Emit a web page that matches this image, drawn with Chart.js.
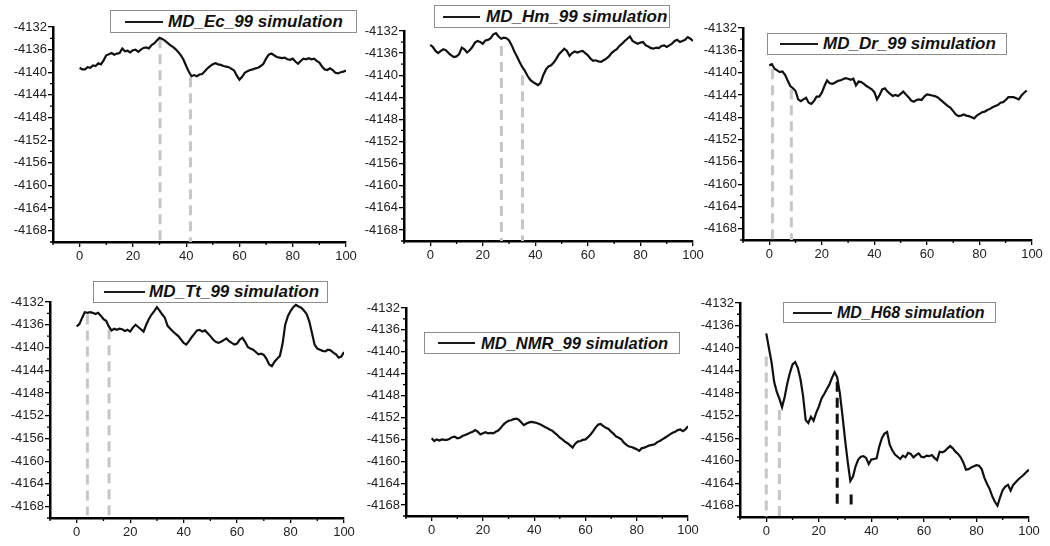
<!DOCTYPE html>
<html>
<head>
<meta charset="utf-8">
<script src="https://cdn.jsdelivr.net/npm/chart.js@4.4.1/dist/chart.umd.min.js"></script>
<style>
  html, body { margin: 0; padding: 0; background: #fff; width: 1050px; height: 546px; overflow: hidden; }
  canvas { position: absolute; }
  .lg { position: absolute; box-sizing: border-box; border: 1px solid #8c8c8c; background: #fff; display: flex; align-items: center; white-space: nowrap; }
  .lg .ln { display: inline-block; height: 0; border-top: 2px solid #1a1a1a; }
  .lg .tx { font-family: "Liberation Sans", Arial, sans-serif; font-weight: bold; font-style: italic; color: #111; }
</style>
</head>
<body>
<script>
// ---------------- DATA ----------------
const steps = [0,1,2,3,4,5,6,7,8,9,10,11,12,13,14,15,16,17,18,19,20,21,22,23,24,25,26,27,28,29,30,31,32,33,34,35,36,37,38,39,40,41,42,43,44,45,46,47,48,49,50,51,52,53,54,55,56,57,58,59,60,61,62,63,64,65,66,67,68,69,70,71,72,73,74,75,76,77,78,79,80,81,82,83,84,85,86,87,88,89,90,91,92,93,94,95,96,97,98,99,100];

const seriesNames = ["MD_Ec_99 simulation","MD_Hm_99 simulation","MD_Dr_99 simulation","MD_Tt_99 simulation","MD_NMR_99 simulation","MD_H68 simulation"];

const ecValues = [-4139.2,-4139.5,-4139.5,-4139.1,-4139.2,-4138.8,-4138.9,-4138.4,-4138.6,-4137.9,-4137.0,-4136.8,-4136.6,-4136.9,-4136.7,-4136.6,-4135.8,-4136.3,-4136.2,-4136.5,-4136.1,-4136.0,-4136.4,-4136.0,-4135.7,-4135.6,-4135.8,-4135.2,-4134.9,-4134.4,-4133.9,-4134.1,-4134.4,-4134.8,-4135.2,-4135.5,-4135.9,-4136.4,-4137.0,-4137.8,-4138.9,-4139.9,-4140.7,-4140.5,-4140.7,-4140.4,-4140.3,-4139.8,-4139.3,-4138.9,-4138.6,-4138.4,-4138.6,-4138.7,-4138.9,-4139.0,-4139.1,-4139.4,-4139.7,-4140.6,-4141.3,-4140.8,-4140.1,-4139.8,-4139.6,-4139.5,-4139.3,-4139.2,-4138.9,-4138.5,-4137.6,-4136.9,-4136.7,-4137.0,-4137.3,-4137.4,-4137.5,-4137.4,-4137.7,-4137.8,-4137.6,-4138.1,-4138.5,-4138.0,-4137.6,-4137.7,-4137.5,-4137.7,-4137.6,-4138.0,-4138.3,-4139.0,-4139.5,-4139.6,-4139.3,-4139.6,-4140.1,-4140.2,-4140.0,-4139.9,-4139.7];

const hmValues = [-4134.5,-4134.9,-4135.6,-4136.0,-4135.6,-4135.3,-4135.5,-4136.0,-4136.4,-4136.7,-4136.6,-4136.2,-4135.0,-4135.3,-4135.9,-4135.5,-4134.9,-4134.1,-4133.8,-4134.0,-4134.3,-4133.7,-4133.6,-4133.3,-4132.6,-4132.4,-4133.0,-4133.4,-4133.2,-4133.3,-4133.7,-4134.6,-4135.7,-4136.6,-4137.6,-4138.5,-4139.2,-4140.1,-4140.8,-4141.2,-4141.5,-4141.8,-4141.4,-4140.0,-4139.0,-4138.4,-4138.2,-4137.7,-4137.0,-4136.2,-4135.7,-4135.2,-4135.6,-4136.5,-4136.0,-4135.7,-4135.9,-4135.7,-4135.6,-4136.0,-4136.4,-4137.0,-4137.4,-4137.3,-4137.5,-4137.6,-4137.3,-4137.0,-4136.6,-4136.0,-4135.6,-4135.3,-4134.7,-4134.3,-4133.8,-4133.4,-4133.0,-4133.8,-4134.1,-4134.3,-4134.1,-4134.0,-4134.6,-4134.8,-4135.1,-4135.2,-4135.0,-4135.1,-4134.7,-4134.6,-4134.9,-4134.6,-4134.3,-4133.8,-4133.6,-4134.0,-4133.8,-4133.6,-4133.1,-4133.4,-4133.8];

const drValues = [-4138.7,-4138.5,-4139.3,-4139.6,-4139.9,-4139.8,-4140.4,-4141.4,-4142.4,-4142.8,-4143.3,-4144.8,-4145.1,-4144.8,-4144.5,-4145.4,-4145.6,-4145.1,-4144.3,-4144.3,-4143.6,-4142.4,-4141.4,-4141.9,-4142.0,-4141.8,-4141.5,-4141.4,-4141.2,-4141.0,-4141.1,-4141.3,-4141.1,-4142.3,-4141.6,-4141.7,-4142.0,-4142.4,-4142.7,-4143.0,-4143.5,-4144.8,-4144.0,-4143.0,-4142.8,-4143.4,-4143.8,-4144.2,-4144.0,-4144.2,-4143.8,-4143.4,-4143.9,-4144.4,-4145.0,-4145.2,-4144.9,-4144.8,-4144.9,-4144.3,-4143.9,-4144.0,-4144.1,-4144.2,-4144.4,-4144.8,-4145.2,-4145.6,-4146.0,-4146.3,-4146.9,-4147.5,-4147.8,-4147.7,-4147.5,-4147.7,-4147.8,-4148.0,-4148.2,-4147.7,-4147.4,-4147.1,-4147.0,-4146.7,-4146.5,-4146.2,-4146.0,-4145.8,-4145.4,-4145.3,-4144.9,-4144.4,-4144.4,-4144.4,-4144.6,-4144.8,-4144.1,-4143.6,-4143.2];

const ttValues = [-4136.3,-4135.9,-4134.8,-4133.8,-4133.9,-4133.8,-4133.9,-4134.1,-4133.9,-4134.4,-4135.0,-4135.3,-4136.3,-4137.0,-4136.7,-4136.9,-4136.7,-4136.8,-4137.1,-4136.9,-4137.2,-4136.5,-4136.0,-4136.4,-4136.8,-4137.2,-4136.0,-4135.0,-4134.2,-4133.6,-4132.9,-4133.5,-4134.2,-4134.8,-4136.2,-4136.7,-4137.2,-4137.6,-4138.0,-4138.6,-4139.2,-4139.5,-4138.9,-4138.2,-4137.6,-4137.0,-4136.9,-4137.2,-4137.0,-4137.5,-4138.0,-4138.6,-4139.0,-4139.2,-4139.0,-4138.7,-4138.4,-4138.9,-4139.2,-4139.5,-4139.3,-4138.6,-4138.3,-4139.0,-4139.9,-4140.2,-4140.4,-4140.8,-4141.2,-4141.1,-4141.3,-4142.0,-4143.0,-4143.3,-4142.5,-4142.0,-4141.5,-4139.4,-4136.0,-4134.5,-4133.6,-4132.9,-4132.5,-4132.8,-4133.0,-4133.5,-4134.1,-4135.4,-4137.4,-4139.5,-4140.2,-4140.4,-4140.6,-4140.7,-4140.4,-4140.5,-4140.9,-4141.2,-4141.8,-4141.6,-4140.8];

const nmrValues = [-4155.8,-4156.3,-4156.0,-4156.2,-4156.0,-4156.1,-4156.1,-4155.9,-4155.6,-4155.5,-4155.8,-4155.7,-4155.4,-4155.2,-4155.0,-4154.8,-4154.6,-4154.3,-4154.6,-4155.1,-4154.9,-4154.7,-4154.9,-4154.8,-4154.9,-4154.6,-4154.4,-4153.9,-4153.3,-4152.9,-4152.6,-4152.5,-4152.3,-4152.2,-4152.4,-4152.9,-4153.4,-4153.1,-4152.9,-4152.8,-4152.9,-4153.0,-4153.2,-4153.4,-4153.7,-4153.9,-4154.2,-4154.4,-4154.8,-4155.2,-4155.7,-4156.0,-4156.4,-4156.7,-4157.1,-4157.5,-4156.8,-4156.4,-4156.3,-4156.1,-4156.0,-4155.6,-4155.1,-4154.5,-4153.8,-4153.3,-4153.2,-4153.6,-4153.9,-4154.1,-4154.6,-4155.0,-4155.5,-4155.7,-4156.0,-4156.6,-4157.0,-4157.3,-4157.4,-4157.6,-4157.8,-4158.1,-4157.6,-4157.5,-4157.3,-4157.1,-4157.0,-4156.9,-4156.5,-4156.3,-4156.0,-4155.7,-4155.4,-4155.1,-4154.8,-4154.6,-4154.3,-4154.2,-4154.5,-4154.2,-4153.6];

const h68Values = [-4137.4,-4140.0,-4142.5,-4146.0,-4147.8,-4149.0,-4150.5,-4148.7,-4146.3,-4144.4,-4142.9,-4142.5,-4143.5,-4145.5,-4148.5,-4152.8,-4153.3,-4152.2,-4152.9,-4151.5,-4150.4,-4149.0,-4148.2,-4147.3,-4146.5,-4145.3,-4144.3,-4145.2,-4148.0,-4152.0,-4156.3,-4160.2,-4163.6,-4162.8,-4161.0,-4159.8,-4159.3,-4159.2,-4159.5,-4160.6,-4159.8,-4159.7,-4159.6,-4157.5,-4156.0,-4155.2,-4154.9,-4157.2,-4158.2,-4158.9,-4159.3,-4159.7,-4159.1,-4159.4,-4158.6,-4158.8,-4159.4,-4159.0,-4158.7,-4159.3,-4159.4,-4159.1,-4159.2,-4159.0,-4159.5,-4159.9,-4158.4,-4158.5,-4158.3,-4157.8,-4157.4,-4157.8,-4158.4,-4158.8,-4159.4,-4160.3,-4161.6,-4161.5,-4161.2,-4161.0,-4160.8,-4160.9,-4161.5,-4163.0,-4164.1,-4165.0,-4166.3,-4167.3,-4168.0,-4166.5,-4165.2,-4164.6,-4164.3,-4165.3,-4164.3,-4163.8,-4163.3,-4162.9,-4162.5,-4162.0,-4161.6];

// dashed marker lines: [x, top y, bottom y]
const ecGrayMarks  = [[30.2, -4134.0, -4170], [41.6, -4140.9, -4170]];
const hmGrayMarks  = [[27.1, -4134.7, -4170], [35.1, -4140.0, -4170]];
const drGrayMarks  = [[1.2, -4139.4, -4170], [8.4, -4143.0, -4170]];
const ttGrayMarks  = [[4.0, -4134.2, -4169.5], [12.1, -4136.8, -4169.5]];
const nmrGrayMarks = [];
const h68GrayMarks = [[0.0, -4141.5, -4170], [5.0, -4151.0, -4170]];
const h68BlackMarks = [[27.0, -4146.0, -4168.6], [32.3, -4166.0, -4167.8]];

const xTickLabels = [0, 20, 40, 60, 80, 100];
const xMinorTicks = [-10, 10, 30, 50, 70, 90];
const yTickLabels = [-4168, -4164, -4160, -4156, -4152, -4148, -4144, -4140, -4136, -4132];
const yMinorTicks = [-4170, -4166, -4162, -4158, -4154, -4150, -4146, -4142, -4138, -4134];
const xRange = [-10, 100];
const yRange = [-4170, -4132];

// ---------------- LAYOUT (positions / styles only) ----------------
const Y_AXIS_W = 50, X_AXIS_H = 30, PAD_TOP = 10, PAD_RIGHT = 15;
const panels = [
  { values: ecValues,  gray: ecGrayMarks,  black: [], name: seriesNames[0], area: {l: 53, r: 346, t: 27, b: 242},
    legend: {l: 110, t: 10, w: 247, h: 23, lineOff: 14, lineLen: 38, gap: 5, fs: 17} },
  { values: hmValues,  gray: hmGrayMarks,  black: [], name: seriesNames[1], area: {l: 404, r: 693, t: 31, b: 241},
    legend: {l: 434, t: 5, w: 236, h: 23, lineOff: 8, lineLen: 37, gap: 6, fs: 17} },
  { values: drValues,  gray: drGrayMarks,  black: [], name: seriesNames[2], area: {l: 743, r: 1032, t: 28, b: 240},
    legend: {l: 767, t: 33, w: 240, h: 22, lineOff: 12, lineLen: 38, gap: 5, fs: 17} },
  { values: ttValues,  gray: ttGrayMarks,  black: [], name: seriesNames[3], area: {l: 50, r: 344, t: 302, b: 518},
    legend: {l: 93, t: 281, w: 235, h: 22, lineOff: 10, lineLen: 41, gap: 4, fs: 17} },
  { values: nmrValues, gray: nmrGrayMarks, black: [], name: seriesNames[4], area: {l: 406, r: 688, t: 308, b: 516},
    legend: {l: 424, t: 332, w: 256, h: 22, lineOff: 13, lineLen: 37, gap: 6, fs: 16.5} },
  { values: h68Values, gray: h68GrayMarks, black: h68BlackMarks, name: seriesNames[5], area: {l: 740, r: 1029, t: 303, b: 517},
    legend: {l: 783, t: 302, w: 213, h: 21, lineOff: 9, lineLen: 39, gap: 5, fs: 16} }
];

const tickFont = { family: '"Liberation Sans", Arial, sans-serif', size: 13 };

const minorTickPlugin = {
  id: 'minorTicks',
  afterDraw(chart) {
    const ctx = chart.ctx, xs = chart.scales.x, ys = chart.scales.y;
    ctx.save();
    ctx.strokeStyle = '#000';
    ctx.lineWidth = 1.3;
    ctx.beginPath();
    yMinorTicks.forEach(v => {
      const py = ys.getPixelForValue(v);
      ctx.moveTo(ys.right - 3, py); ctx.lineTo(ys.right, py);
    });
    xMinorTicks.forEach(v => {
      const px = xs.getPixelForValue(v);
      ctx.moveTo(px, xs.top); ctx.lineTo(px, xs.top + 3);
    });
    ctx.stroke();
    ctx.restore();
  }
};

function markDatasets(marks, color) {
  return marks.map(m => ({
    data: [{x: m[0], y: m[1]}, {x: m[0], y: m[2]}],
    borderColor: color, borderWidth: 3, borderDash: [10, 6],
    pointRadius: 0, fill: false, order: 2
  }));
}

const plainLabel = v => String(v);

panels.forEach(p => {
  const a = p.area;
  const areaW = a.r - a.l, areaH = a.b - a.t;
  const cv = document.createElement('canvas');
  const W = Y_AXIS_W + areaW + PAD_RIGHT, H = PAD_TOP + areaH + X_AXIS_H;
  cv.width = W; cv.height = H;
  cv.style.left = (a.l - Y_AXIS_W) + 'px';
  cv.style.top = (a.t - PAD_TOP) + 'px';
  cv.style.width = W + 'px'; cv.style.height = H + 'px';
  document.body.appendChild(cv);

  const curve = {
    data: p.values.map((v, i) => ({x: steps[i], y: v})),
    borderColor: '#111', borderWidth: 2.2, pointRadius: 0, tension: 0, fill: false, order: 1,
    borderJoinStyle: 'miter'
  };
  new Chart(cv, {
    type: 'line',
    data: { datasets: [...markDatasets(p.gray, '#c6c6c6'), ...markDatasets(p.black, '#111'), curve] },
    options: {
      responsive: false, animation: false, devicePixelRatio: 1,
      layout: { padding: { top: PAD_TOP, right: PAD_RIGHT, left: 0, bottom: 0 } },
      plugins: { legend: { display: false }, tooltip: { enabled: false } },
      scales: {
        x: {
          type: 'linear', min: xRange[0], max: xRange[1],
          afterFit(s) { s.height = X_AXIS_H; },
          afterBuildTicks(s) { s.ticks = xTickLabels.map(v => ({value: v})); },
          ticks: { font: tickFont, color: '#222', padding: 2, maxRotation: 0, autoSkip: false, callback: plainLabel },
          grid: { drawOnChartArea: false, drawTicks: true, tickLength: 5, color: '#000', lineWidth: 1.3 },
          border: { display: true, color: '#000', width: 2.5 }
        },
        y: {
          type: 'linear', min: yRange[0], max: yRange[1],
          afterFit(s) { s.width = Y_AXIS_W; },
          afterBuildTicks(s) { s.ticks = yTickLabels.map(v => ({value: v})); },
          ticks: { font: tickFont, color: '#222', padding: 1, autoSkip: false, callback: plainLabel },
          grid: { drawOnChartArea: false, drawTicks: true, tickLength: 5, color: '#000', lineWidth: 1.3 },
          border: { display: true, color: '#000', width: 2.5 }
        }
      }
    },
    plugins: [minorTickPlugin]
  });

  // legend box (real text)
  const L = p.legend;
  const box = document.createElement('div');
  box.className = 'lg';
  box.style.left = L.l + 'px'; box.style.top = L.t + 'px';
  box.style.width = L.w + 'px'; box.style.height = L.h + 'px';
  const ln = document.createElement('span');
  ln.className = 'ln';
  ln.style.marginLeft = L.lineOff + 'px'; ln.style.width = L.lineLen + 'px'; ln.style.marginRight = L.gap + 'px';
  const tx = document.createElement('span');
  tx.className = 'tx'; tx.style.fontSize = L.fs + 'px';
  tx.textContent = p.name;
  box.appendChild(ln); box.appendChild(tx);
  document.body.appendChild(box);
});
</script>
</body>
</html>
